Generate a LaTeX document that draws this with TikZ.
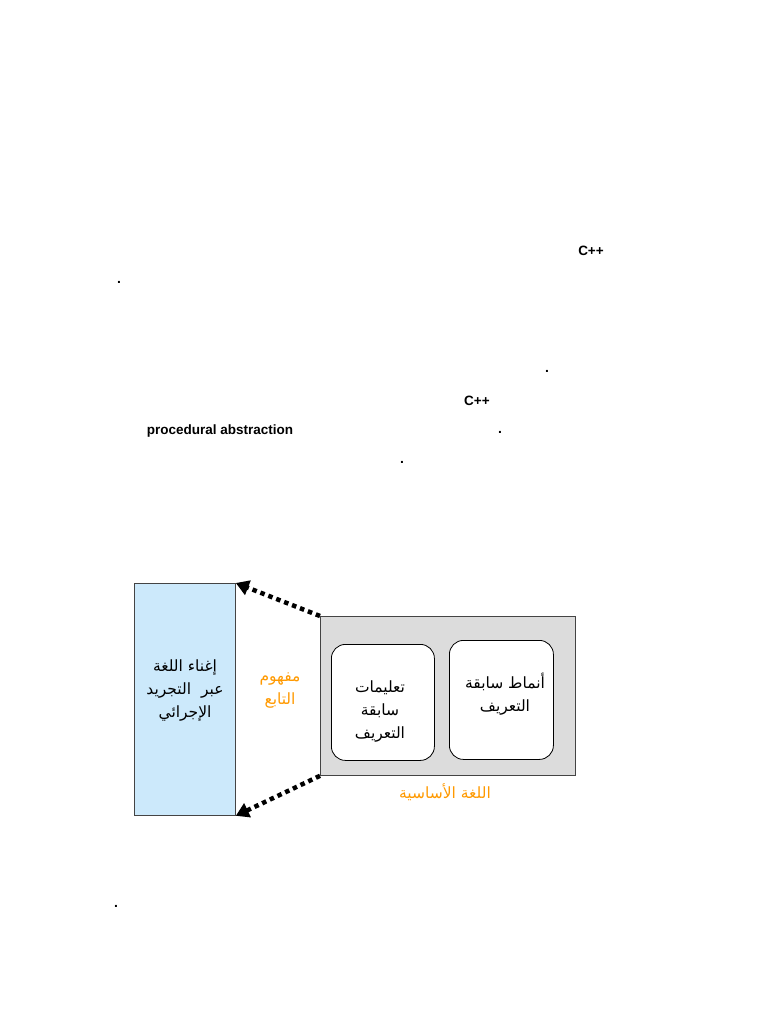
\documentclass[tikz,border=0pt]{standalone}
\usepackage{fontspec}
\setmainfont{Liberation Sans}
\newfontfamily\arabicfont[Script=Arabic]{DejaVu Sans}
\TeXXeTstate=1
\usetikzlibrary{arrows.meta}
\definecolor{lblue}{HTML}{CCE9FB}
\definecolor{lgray}{HTML}{DCDCDC}
\definecolor{orng}{HTML}{FF9900}
\definecolor{edge}{HTML}{444444}
\begin{document}
\begin{tikzpicture}[x=1pt,y=-1pt,
  lat/.style={font=\fontsize{13.5}{15}\selectfont\bfseries, inner sep=0pt},
  dotmark/.style={font=\fontsize{14}{15}\selectfont\bfseries, inner sep=0pt},
  ar/.style={font=\arabicfont\fontsize{15.5}{23}\selectfont, align=center, inner sep=0pt},
  arorange/.style={ar, text=orng},
  box/.style={draw=edge, line width=0.8pt},
  inner/.style={draw=black, line width=0.8pt, fill=white, rounded corners=14pt},
  dotarrow/.style={line width=4.5pt, dash pattern=on 4.5pt off 4pt, -{Triangle[length=13pt,width=15pt]}}
]
\useasboundingbox (0,0) rectangle (768,1024);
% text fragments
\node[lat] (cpp1) at (591,251) {C++};
\node[dotmark] (d1) at (119,282) {.};
\node[dotmark] (d2) at (547,371) {.};
\node[lat] (cpp2) at (477,401) {C++};
\node[lat] (proc) at (220,431) {procedural abstraction};
\node[dotmark] (d3) at (500,432) {.};
\node[dotmark] (d4) at (402,462) {.};
\node[dotmark] (d5) at (116,906) {.};
% diagram
\node[box, fill=lblue, minimum width=101pt, minimum height=232pt, anchor=north west] (enrich) at (134,583) {};
\node[ar] (enricht) at (185,690) {\beginR إغناء اللغة\endR\\\beginR عبر\ \ التجريد\endR\\\beginR الإجرائي\endR};
\node[box, fill=lgray, minimum width=255pt, minimum height=159pt, anchor=north west] (core) at (320,616) {};
\node[inner, minimum width=103pt, minimum height=116pt, anchor=north west] (instr) at (331,644) {};
\node[ar] (instrt) at (380,711) {\beginR تعليمات\endR\\\beginR سابقة\endR\\\beginR التعريف\endR};
\node[inner, minimum width=104pt, minimum height=119pt, anchor=north west] (types) at (449,640) {};
\node[ar] (typest) at (505,694) {\beginR أنماط سابقة\endR\\\beginR التعريف\endR};
\node[arorange] (func) at (280,691) {\beginR مفهوم\endR\\\beginR التابع\endR};
\node[arorange] (corel) at (445,792) {\beginR اللغة الأساسية\endR};
% arrows
\draw[dotarrow] (core.north west) -- (enrich.north east);
\draw[dotarrow] (core.south west) -- (enrich.south east);
\end{tikzpicture}
\end{document}
